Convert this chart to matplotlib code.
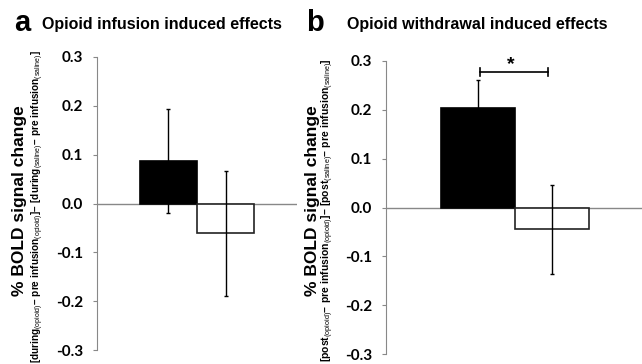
import matplotlib.pyplot as plt

plt.rcParams['font.family'] = ['Liberation Sans', 'DejaVu Sans']
plt.rcParams['mathtext.fontset'] = 'custom'
plt.rcParams['mathtext.rm'] = 'Liberation Sans'
plt.rcParams['mathtext.bf'] = 'Liberation Sans:bold'

# data
groups = ['opioid', 'saline']
infusion_mean = [0.087, -0.061]
infusion_err = [0.107, 0.128]
withdrawal_mean = [0.204, -0.045]
withdrawal_err = [0.057, 0.091]
yticks = [-0.3, -0.2, -0.1, 0.0, 0.1, 0.2, 0.3]
ytick_labels = ['-0.3', '-0.2', '-0.1', '0.0', '0.1', '0.2', '0.3']

fig = plt.figure(figsize=(6.42, 3.64), dpi=100)
ax1 = fig.add_axes([97/642, 14/364, 200/642, 293/364])
ax2 = fig.add_axes([386/642, 10/364, 259/642, 293/364])


def panel(ax, means, errs):
    x = list(range(len(groups)))
    ax.bar(x, means, width=1.0, color=['black', 'white'],
           edgecolor=['black', '#222222'], linewidth=1.2, zorder=2)
    ax.errorbar(x, means, yerr=errs, fmt='none', ecolor='black',
                elinewidth=1.0, capsize=1.5, capthick=1.0, zorder=3)
    ax.axhline(0, color='#888888', lw=1.0, zorder=1)
    ax.set_xlim(-1.25, 2.25)
    ax.set_ylim(-0.3, 0.3)
    ax.set_yticks(yticks)
    ax.set_yticklabels(ytick_labels, fontfamily='Lato', fontweight='bold',
                       fontsize=11)
    ax.set_xticks([])
    for s in ['top', 'right', 'bottom']:
        ax.spines[s].set_visible(False)
    ax.spines['left'].set_color('#888888')
    ax.tick_params(axis='y', length=3, width=0.8, color='#888888', pad=7)


panel(ax1, infusion_mean, infusion_err)
panel(ax2, withdrawal_mean, withdrawal_err)

# significance bracket
ax2.plot([0.02, 0.94], [0.277, 0.277], color='black', lw=1.2, clip_on=False)
for xe in [0.02, 0.94]:
    ax2.plot([xe, xe], [0.269, 0.285], color='black', lw=1.2, clip_on=False)
ax2.text(0.44, 0.292, '*', ha='center', va='center', fontsize=14,
         fontweight='bold', clip_on=False)

# panel letters and titles
fig.text(14/642, 1 - 31/364, 'a', fontsize=21, fontweight='bold')
fig.text(42/642, 1 - 29/364, 'Opioid infusion induced effects',
         fontsize=11.5, fontweight='bold')
fig.text(306/642, 1 - 31/364, 'b', fontsize=21, fontweight='bold')
fig.text(347/642, 1 - 29/364, 'Opioid withdrawal induced effects',
         fontsize=11.5, fontweight='bold')


# y labels: bold words with regular subscripts
def sub_label(word):
    d = '\u2013'
    return (r'$\mathbf{[' + word + r'}_{\mathrm{(opioid)}}\mathbf{' + d
            + r'\ pre\ infusion}_{\mathrm{(opioid)}}\mathbf{]' + d + r'\ ['
            + word + r'}_{\mathrm{(saline)}}\mathbf{' + d
            + r'\ pre\ infusion}_{\mathrm{(saline)}}\mathbf{]}$')


fig.text(20/642, 1 - 201/364, '% BOLD signal change', rotation=90,
         ha='center', va='center', fontsize=12.5, fontweight='bold')
fig.text(38/642, 1 - 50/364, sub_label('during'), rotation=90,
         ha='center', va='top', fontsize=7.2)
fig.text(313/642, 1 - 201/364, '% BOLD signal change', rotation=90,
         ha='center', va='center', fontsize=12.5, fontweight='bold')
fig.text(328/642, 1 - 58/364, sub_label('post'), rotation=90,
         ha='center', va='top', fontsize=7.5)

fig.savefig('out.png', dpi=100)
